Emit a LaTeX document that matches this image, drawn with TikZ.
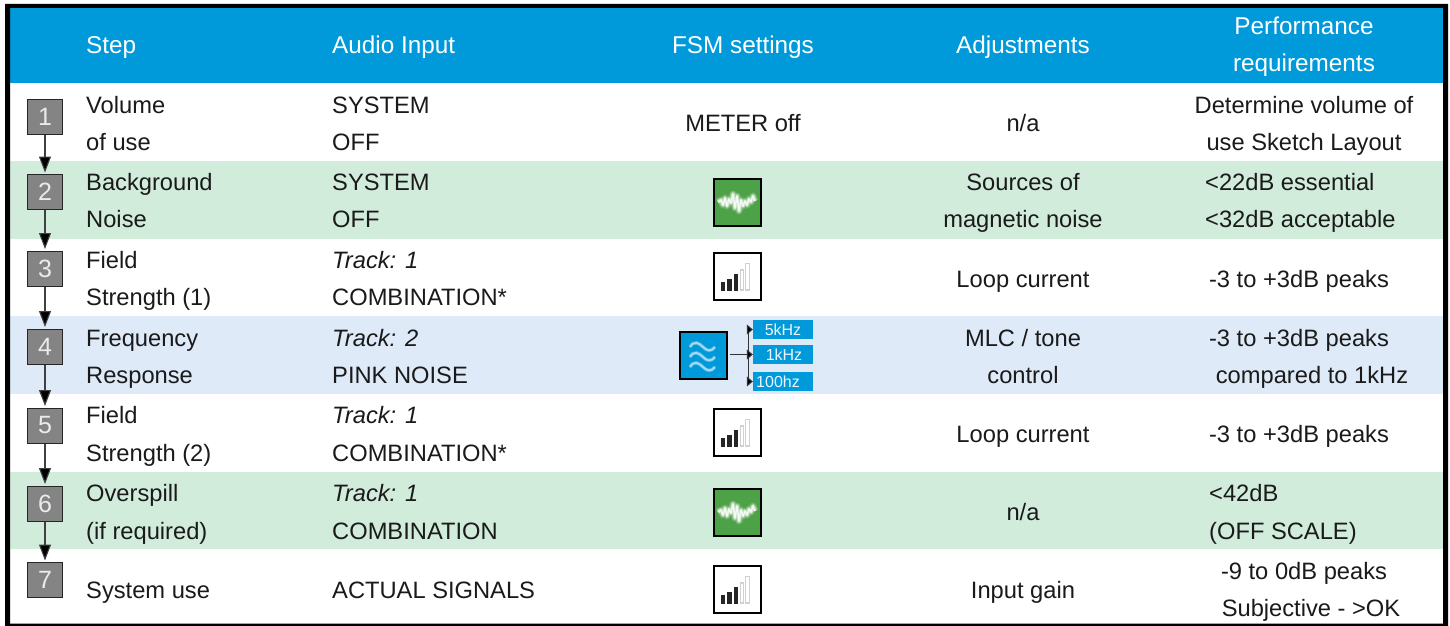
\documentclass[tikz,border=0pt]{standalone}
\usepackage{fontspec}
\setmainfont{Liberation Sans}
\usetikzlibrary{arrows.meta}
\definecolor{hdrblue}{HTML}{0099DA}
\definecolor{rowgreen}{HTML}{D2ECDC}
\definecolor{rowblue}{HTML}{DEEAF8}
\definecolor{stepgray}{HTML}{848484}
\definecolor{noisegreen}{HTML}{4DA247}
\definecolor{txt}{HTML}{1A1A1A}
\tikzset{
  tl/.style={inner sep=0pt,anchor=base west,text=txt,font=\fontsize{23.7}{28}\selectfont},
  tc/.style={tl,anchor=base},
  hl/.style={tl,text=white,font=\fontsize{24.3}{28}\selectfont},
  hc/.style={tc,text=white,font=\fontsize{24.3}{28}\selectfont},
  stepbox/.style={draw=black!85,line width=1pt,fill=stepgray,minimum size=35pt,inner sep=0pt,text=white!92!black,font=\fontsize{25}{25}\selectfont},
  flow/.style={draw=black!75,line width=1.1pt,shorten >=1.5pt,-{Triangle[length=16pt,width=12pt,fill=black]}},
  icon/.style={draw=black,line width=2.2pt,minimum size=47.5pt,inner sep=0pt},
  tag/.style={fill=hdrblue,inner sep=0pt,minimum height=19pt,minimum width=60pt},
  tagtext/.style={inner sep=0pt,anchor=base,text=white!92!hdrblue,font=\fontsize{16}{16}\selectfont},
  branch/.style={draw=black!80,line width=1pt},
  tip/.style={branch,-{Triangle[length=6pt,width=10pt,fill=black]}},
}
\newcommand{\sigicon}[3]{%
  \node[icon,fill=white] (#1) at (#2+24.5,#3+24.5) {};
  \begin{scope}[shift={(#2,#3)}]
    \fill[black!85] (7.5,38.5) rectangle (12.2,29.5);
    \fill[black!85] (13.8,38.5) rectangle (19.2,27);
    \fill[black!85] (20.5,38.5) rectangle (25.2,22.3);
    \draw[black!18,line width=1.2pt] (27.5,38) rectangle (30.5,18);
    \draw[black!18,line width=1.2pt] (32.5,38) rectangle (36.5,11.3);
  \end{scope}}
\newcommand{\noiseicon}[3]{%
  \node[icon,fill=noisegreen] (#1) at (#2+24.5,#3+24.5) {};
  \begin{scope}[shift={(#2,#3)}]
    \foreach \w/\o in {7/.18,5/.3,3/.5,1.4/.8}{
      \draw[white,opacity=\o,line width=\w pt,line join=round]
        (5,24) -- (8,22) -- (10,27) -- (12,20) -- (14,28) -- (16,21) -- (18,25) -- (20,16)
        -- (22,30) -- (24,18) -- (26,33) -- (28,22) -- (30,28) -- (32,23) -- (34,27) -- (36,21) -- (38,24) -- (40,18) -- (42,23);
    }
  \end{scope}}
\begin{document}
\begin{tikzpicture}[x=1pt,y=-1pt]
\useasboundingbox (0,0) rectangle (1450,626);
\fill[white] (0,0) rectangle (1450,626);
% bands
\fill[hdrblue] (8,6) rectangle (1445,83);
\fill[rowgreen] (8,161) rectangle (1445,238.5);
\fill[rowblue] (8,316) rectangle (1445,394);
\fill[rowgreen] (8,471.5) rectangle (1445,549);
% frame
\fill[black,even odd rule] (5,4) rectangle (1448,626) (10,8) rectangle (1443,623.5);
% header
\node[hl] (hstep) at (86,53.5) {Step};
\node[hl] (haudio) at (332,53.5) {Audio Input};
\node[hc] (hfsm) at (743,53.5) {FSM settings};
\node[hc] (hadj) at (1023,53.5) {Adjustments};
\node[hc] (hperfa) at (1304,35) {Performance};
\node[hc] (hperfb) at (1304,71.5) {requirements};
% steps
\node[stepbox] (s1) at (45,116.5) {1};
\node[stepbox] (s2) at (45,192) {2};
\node[stepbox] (s3) at (45,268.5) {3};
\node[stepbox] (s4) at (45,346.5) {4};
\node[stepbox] (s5) at (45,425.5) {5};
\node[stepbox] (s6) at (45,503.5) {6};
\node[stepbox] (s7) at (45,580) {7};
\draw[flow] (s1) -- (s2);
\draw[flow] (s2) -- (s3);
\draw[flow] (s3) -- (s4);
\draw[flow] (s4) -- (s5);
\draw[flow] (s5) -- (s6);
\draw[flow] (s6) -- (s7);
% row 1
\node[tl] (a1) at (86,113) {Volume};
\node[tl] (a1b) at (86,150) {of use};
\node[tl] (b1) at (332,113) {SYSTEM};
\node[tl] (b1b) at (332,150) {OFF};
\node[tc] (c1) at (743,131) {METER off};
\node[tc] (d1) at (1023,131) {n/a};
\node[tc] (e1) at (1304,113) {Determine volume of};
\node[tc] (e1b) at (1304,150) {use Sketch Layout};
% row 2
\node[tl] (a2) at (86,190) {Background};
\node[tl] (a2b) at (86,227.5) {Noise};
\node[tl] (b2) at (332,190) {SYSTEM};
\node[tl] (b2b) at (332,227.5) {OFF};
\noiseicon{c2}{713}{178}
\node[tc] (d2) at (1023,190) {Sources of};
\node[tc] (d2b) at (1023,227.5) {magnetic noise};
\node[tl] (e2) at (1205,190) {<22dB essential};
\node[tl] (e2b) at (1205,227.5) {<32dB acceptable};
% row 3
\node[tl] (a3) at (86,268) {Field};
\node[tl] (a3b) at (86,305) {Strength (1)};
\node[tl] (b3) at (332,268) {\itshape Track: 1};
\node[tl] (b3b) at (332,305) {COMBINATION*};
\sigicon{c3}{713}{252}
\node[tc] (d3) at (1023,287) {Loop current};
\node[tc] (e3) at (1299,287) {-3 to +3dB peaks};
% row 4
\node[tl] (a4) at (86,346) {Frequency};
\node[tl] (a4b) at (86,383) {Response};
\node[tl] (b4) at (332,346) {\itshape Track: 2};
\node[tl] (b4b) at (332,383) {PINK NOISE};
\node[icon,fill=hdrblue] (c4) at (703.5,355.5) {};
\begin{scope}[shift={(679,331)}]
  \foreach \yy in {16,26,36}{
    \begin{scope}[shift={(0,\yy)}]
    \foreach \w/\o in {3.4/.3,1.8/.5}{
    \draw[white,opacity=\o,line width=\w pt]
      (11,0) .. controls (15,-7) and (20,-4) .. (24,0) .. controls (28,4) and (32,5) .. (36,0);
    }
    \end{scope}
  }
\end{scope}
\node[tag] (t5) at (783,329.5) {};
\node[tag] (t1) at (783,354.5) {};
\node[tag] (t100) at (783,381.5) {};
\node[tagtext] (t5x) at (783,335) {5kHz};
\node[tagtext] (t1x) at (784,360) {1kHz};
\node[tagtext] (t100x) at (778,387) {100hz};
\coordinate (jt) at (748,329.5);
\coordinate (jm) at (748,354.5);
\coordinate (jb) at (748,381.5);
\draw[branch] (jt) -- (jb);
\draw[branch] (c4.east |- jm) ++(2,0) -- (jm);
\draw[tip] (jt) -- (t5.west);
\draw[tip] (jm) -- (t1.west);
\draw[tip] (jb) -- (t100.west);
\node[tc] (d4) at (1023,346) {MLC / tone};
\node[tc] (d4b) at (1023,383) {control};
\node[tc] (e4) at (1299,346) {-3 to +3dB peaks};
\node[tc] (e4b) at (1312,383) {compared to 1kHz};
% row 5
\node[tl] (a5) at (86,423) {Field};
\node[tl] (a5b) at (86,461) {Strength (2)};
\node[tl] (b5) at (332,423) {\itshape Track: 1};
\node[tl] (b5b) at (332,461) {COMBINATION*};
\sigicon{c5}{713}{408}
\node[tc] (d5) at (1023,442) {Loop current};
\node[tc] (e5) at (1299,442) {-3 to +3dB peaks};
% row 6
\node[tl] (a6) at (86,501) {Overspill};
\node[tl] (a6b) at (86,539) {(if required)};
\node[tl] (b6) at (332,501) {\itshape Track: 1};
\node[tl] (b6b) at (332,539) {COMBINATION};
\noiseicon{c6}{713}{488}
\node[tc] (d6) at (1023,520) {n/a};
\node[tl] (e6) at (1209,501) {<42dB};
\node[tl] (e6b) at (1209,539) {(OFF SCALE)};
% row 7
\node[tl] (a7) at (86,598) {System use};
\node[tl] (b7) at (332,598) {ACTUAL SIGNALS};
\sigicon{c7}{713}{565}
\node[tc] (d7) at (1023,598) {Input gain};
\node[tc] (e7) at (1304,579) {-9 to 0dB peaks};
\node[tc] (e7b) at (1311,616) {Subjective - >OK};
\end{tikzpicture}
\end{document}
